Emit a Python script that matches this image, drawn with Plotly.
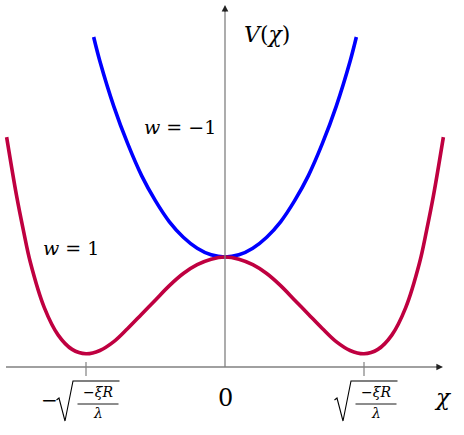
import plotly.graph_objects as go

# potential curves (chi in units of the tick, V in units of V(0))
chi_w1 = [-1.571, -1.5, -1.45, -1.4, -1.3, -1.2, -1.1, -1.0, -0.9, -0.8, -0.7, -0.6,
          -0.5, -0.4, -0.3, -0.2, -0.1, 0.0, 0.1, 0.2, 0.3, 0.4, 0.5, 0.6, 0.7,
          0.8, 0.9, 1.0, 1.1, 1.2, 1.3, 1.4, 1.45, 1.5, 1.571]
V_w1 = [2.09, 1.56, 1.24, 0.95, 0.54, 0.29, 0.16, 0.12, 0.15, 0.23, 0.35, 0.48,
        0.61, 0.74, 0.85, 0.93, 0.98, 1.0, 0.98, 0.93, 0.85, 0.74, 0.61, 0.48, 0.35,
        0.23, 0.15, 0.12, 0.16, 0.29, 0.54, 0.95, 1.24, 1.56, 2.09]

chi_wm1 = [-0.945, -0.9, -0.8, -0.7, -0.6, -0.5, -0.4, -0.3, -0.2, -0.1, 0.0,
           0.1, 0.2, 0.3, 0.4, 0.5, 0.6, 0.7, 0.8, 0.9, 0.945]
V_wm1 = [3.0, 2.78, 2.37, 2.03, 1.74, 1.51, 1.32, 1.18, 1.08, 1.02, 1.0,
         1.02, 1.08, 1.18, 1.32, 1.51, 1.74, 2.03, 2.37, 2.78, 3.0]

tick_vals = [-1, 0, 1]

RED = "#bf0040"
BLUE = "#0000ff"
AXIS = "#808080"
SERIF = "DejaVu Serif"

# pixel frame of the picture (origin of the axes and scale)
X0, SX = 225, 139
Y0, SY = 367, 110
W, H = 464, 435


def px(x, y):
    """pixel position -> data coordinates (only used for decorations)"""
    return (x - X0) / SX, (Y0 - y) / SY


def dx(d):
    return d / SX


def dy(d):
    return d / SY


fig = go.Figure()

fig.add_trace(go.Scatter(x=chi_wm1, y=V_wm1, mode="lines", line_shape="spline",
                         line=dict(color=BLUE, width=3.6), hoverinfo="skip",
                         showlegend=False))
fig.add_trace(go.Scatter(x=chi_w1, y=V_w1, mode="lines", line_shape="spline",
                         line=dict(color=RED, width=3.6), hoverinfo="skip",
                         showlegend=False))

# axes with arrow heads
xl, _ = px(6, 0)
xr, _ = px(443, 0)
_, yt = px(0, 5)
fig.add_shape(type="line", x0=xl, y0=0, x1=xr - dx(3), y1=0,
              line=dict(color=AXIS, width=1.3))
fig.add_shape(type="line", x0=0, y0=0, x1=0, y1=yt - dy(3),
              line=dict(color=AXIS, width=1.3))
fig.add_annotation(x=xr, y=0, ax=xr - dx(8), ay=0, xref="x", yref="y",
                   axref="x", ayref="y", showarrow=True, arrowhead=2,
                   arrowsize=1.1, arrowwidth=1.2, arrowcolor="#222", text="")
fig.add_annotation(x=0, y=yt, ax=0, ay=yt - dy(8), xref="x", yref="y",
                   axref="x", ayref="y", showarrow=True, arrowhead=2,
                   arrowsize=1.1, arrowwidth=1.2, arrowcolor="#222", text="")

# tick marks
for t in tick_vals:
    if t == 0:
        continue
    fig.add_shape(type="line", x0=t, x1=t, y0=dy(5), y1=-dy(9),
                  line=dict(color=AXIS, width=1.2))


def label(x, y, text, size, **kw):
    fig.add_annotation(x=x, y=y, text=text, showarrow=False, xref="x", yref="y",
                       font=dict(family=SERIF, size=size, color="black"),
                       xanchor="center", yanchor="middle", **kw)


# tick labels
label(0, px(0, 398)[1], "0", 24)
for t in tick_vals:
    if t == 0:
        continue
    tick_px = X0 + t * SX
    lead = tick_px - 29.5
    xs = [lead, lead + 2.5, lead + 8.5, lead + 16.5, lead + 63]
    ys = [400, 398, 421, 381, 381]
    path = "M " + " L ".join("%f,%f" % px(a, b) for a, b in zip(xs, ys))
    fig.add_shape(type="path", path=path, line=dict(color="black", width=1.1),
                  xref="x", yref="y")
    fig.add_shape(type="line", x0=px(lead + 21, 0)[0], x1=px(lead + 62, 0)[0],
                  y0=px(0, 404)[1], y1=px(0, 404)[1],
                  line=dict(color="black", width=0.9))
    label(px(lead + 41.5, 0)[0], px(0, 392)[1], "−<i>ξR</i>", 14)
    label(px(lead + 41.5, 0)[0], px(0, 413)[1], "<i>λ</i>", 14)
    if t < 0:
        label(px(lead - 7, 0)[0], px(0, 400)[1], "−", 20)

# axis names and curve labels
label(*px(443, 397), "<i>χ</i>", 23)
label(*px(267, 34), "<i>V</i>(<i>χ</i>)", 22)
label(*px(180, 127), "<i>w</i> = −1", 19)
label(*px(71, 248), "<i>w</i> = 1", 19)

fig.update_xaxes(range=[px(0, 0)[0], px(W, 0)[0]], visible=False, fixedrange=True)
fig.update_yaxes(range=[px(0, H)[1], px(0, 0)[1]], visible=False, fixedrange=True)
fig.update_layout(width=W, height=H, autosize=False,
                  margin=dict(l=0, r=0, t=0, b=0, pad=0),
                  paper_bgcolor="white", plot_bgcolor="white")

fig.write_html("out.html", config=dict(displayModeBar=False),
               post_script="document.body.style.margin = '0';")
